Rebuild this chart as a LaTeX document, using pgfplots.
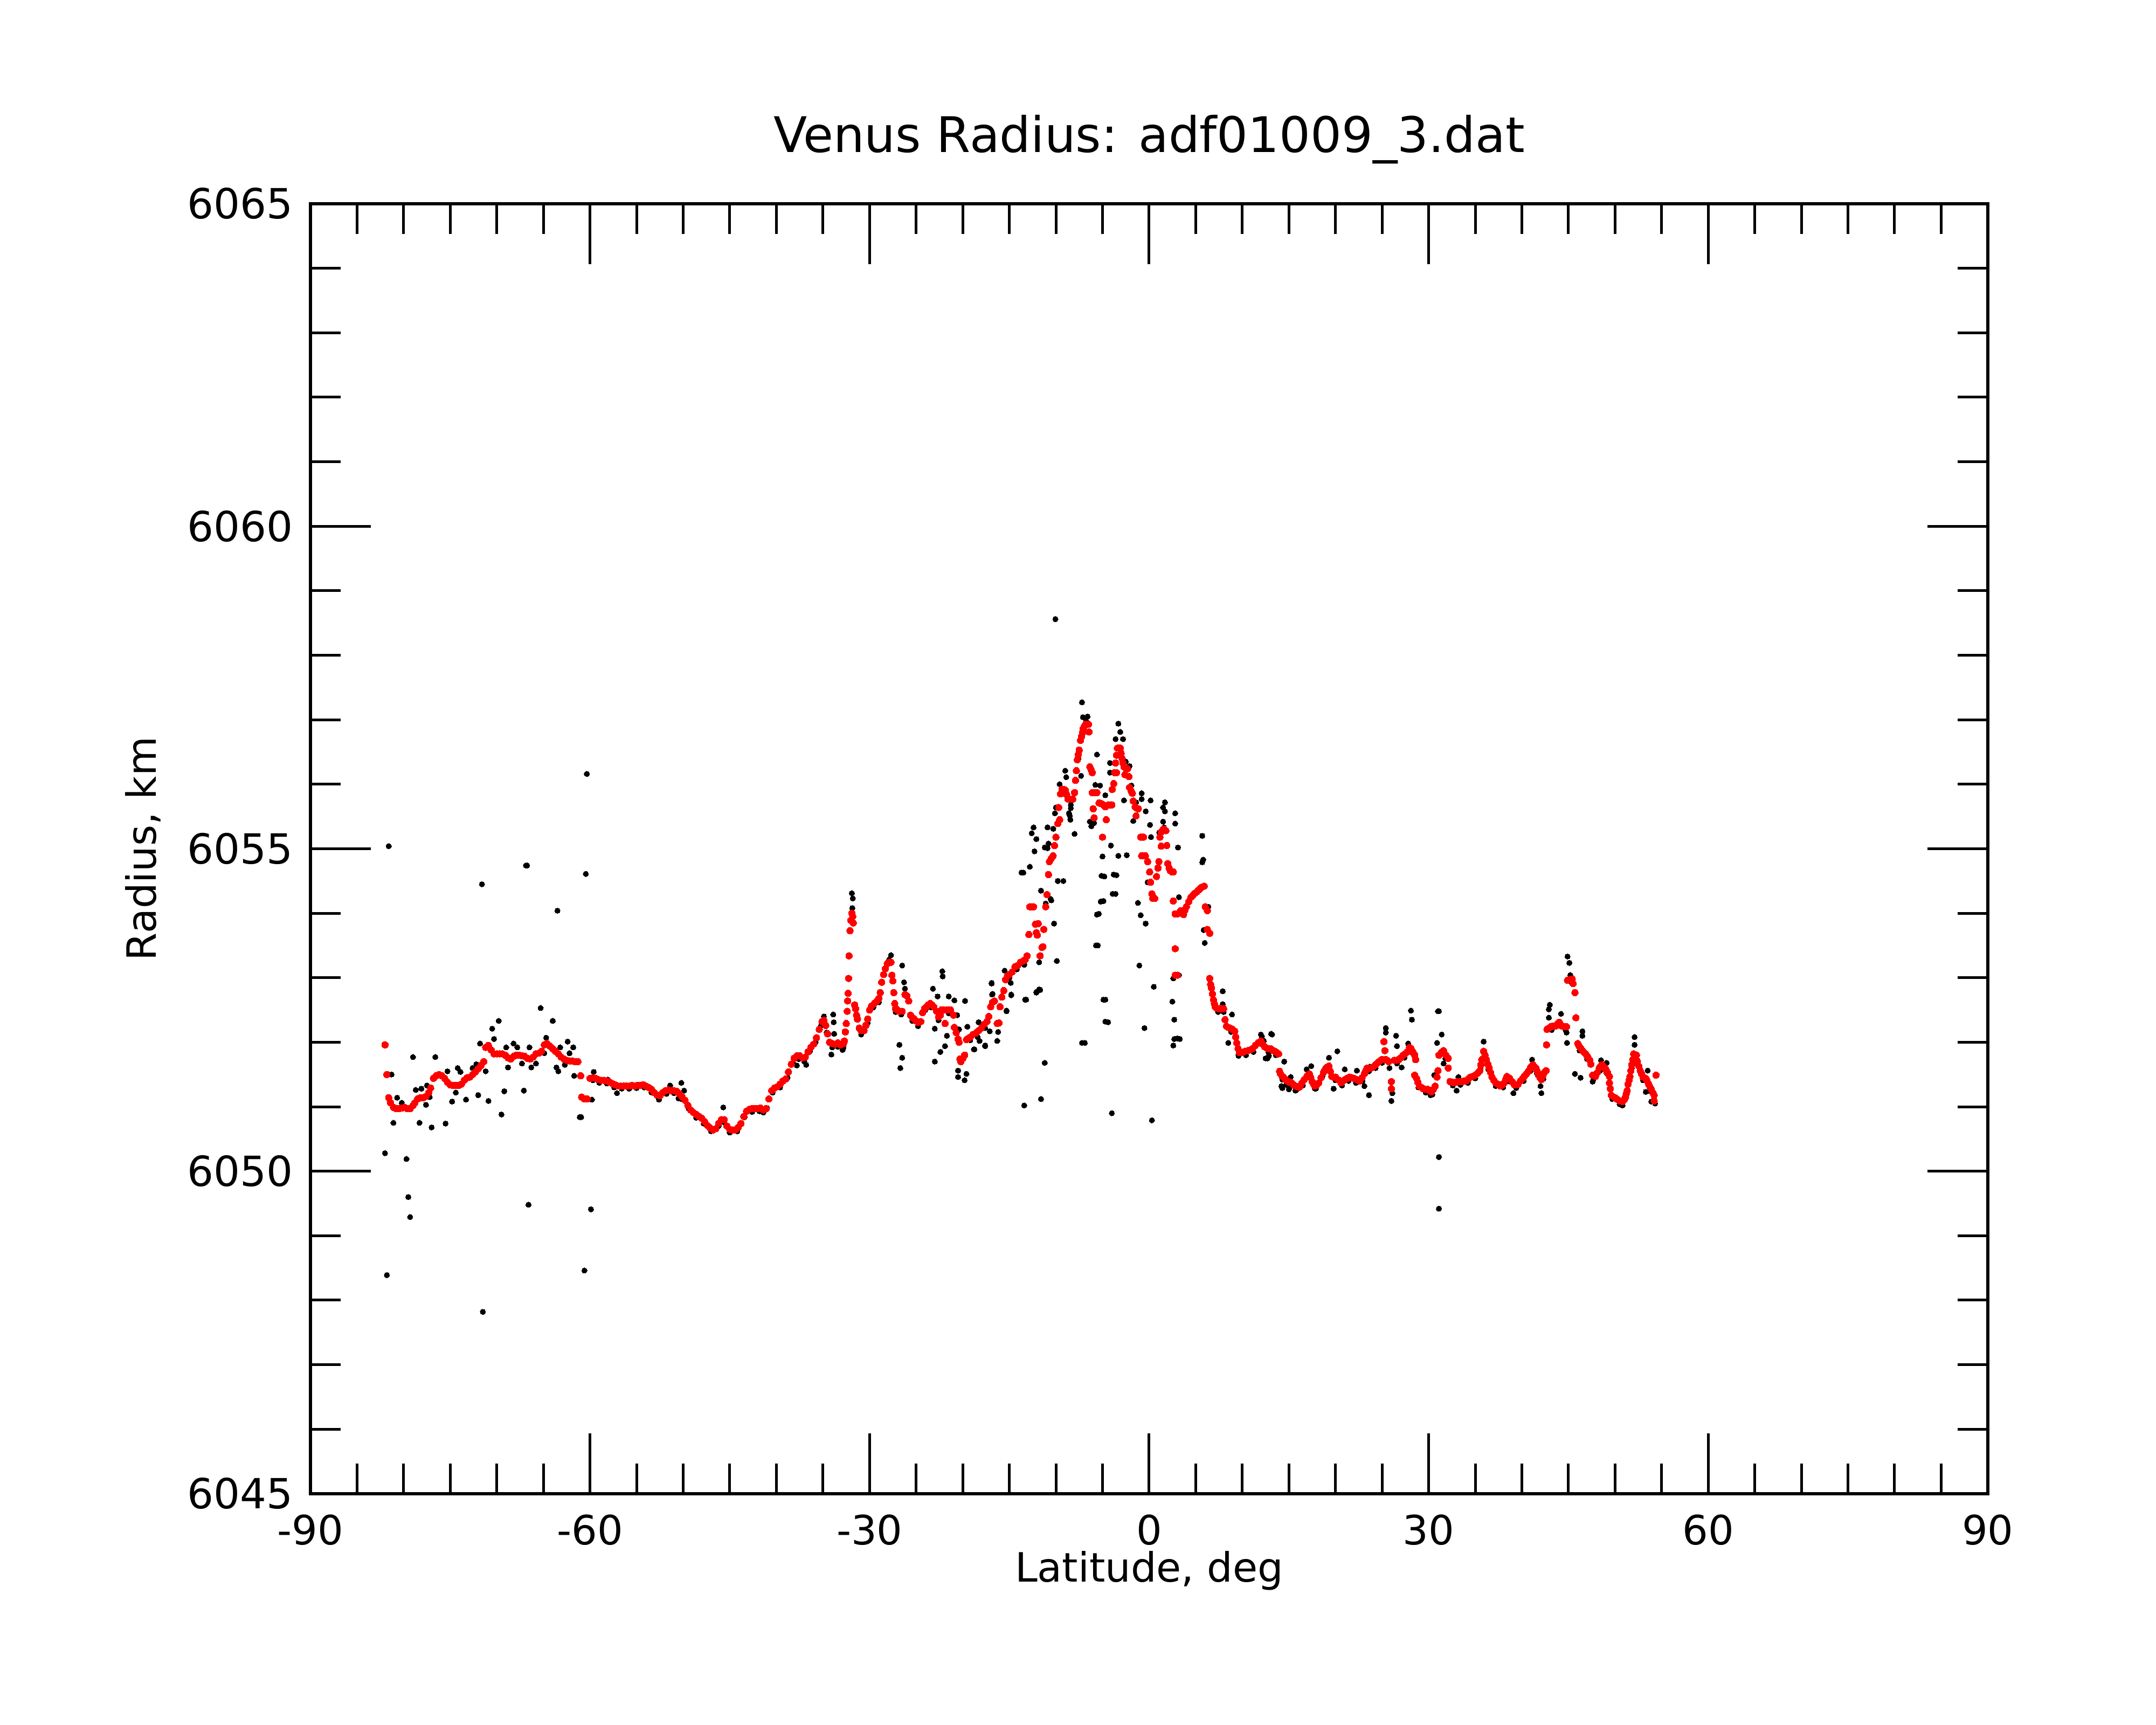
\documentclass[border=0pt]{standalone}
\usepackage{fontspec}
\setmainfont{DejaVu Sans}
\usepackage{pgfplots}
\pgfplotsset{compat=1.18}
\begin{document}
\begin{tikzpicture}
\useasboundingbox (-57.6pt,-42.9pt) rectangle (342.4pt,277.1pt);
\begin{axis}[
  at={(0pt,0pt)}, anchor=south west,
  scale only axis, width=311.2pt, height=239.3pt,
  xmin=-90, xmax=90, ymin=6045, ymax=6065,
  xtick={-90,-60,-30,0,30,60,90},
  xticklabels={-90,-60,-30,0,30,60,90},
  ytick={6045,6050,6055,6060,6065},
  yticklabels={6045,6050,6055,6060,6065},
  minor x tick num=5, minor y tick num=4,
  tick pos=both, ticklabel pos=left,
  tick align=inside,
  major tick length=11.2pt, minor tick length=5.6pt,
  every tick/.style={black, line width=0.5pt},
  axis line style={line width=0.55pt},
  xticklabel style={font=\fontsize{7.5}{9}\selectfont, yshift=-0.4pt},
  yticklabel style={font=\fontsize{7.7}{9}\selectfont, xshift=0.3pt},
  every axis title/.style={at={(axis description cs:0.5,1)}, anchor=base, yshift=9.5pt, font=\fontsize{9.1}{11}\selectfont},
  every axis x label/.style={at={(axis description cs:0.5,0)}, anchor=base, yshift=-16.4pt, font=\fontsize{7.5}{9}\selectfont},
  every axis y label/.style={at={(axis description cs:0,0.5)}, xshift=-28.6pt, rotate=90, anchor=base, font=\fontsize{7.5}{9}\selectfont},
  title={Venus Radius: adf01009\_3.dat},
  xlabel={Latitude, deg},
  ylabel={Radius, km},
  clip=false,
]
% black: raw measurements (off-curve)
\addplot[black, only marks, mark=*, mark size=0.5pt, mark options={solid, fill=black, draw=black, line width=0pt}] table[row sep=\\] {
x y \\
-60.34 6056.16 \\ -81.6 6055.04 \\ -66.87 6054.74 \\ -66.75 6054.74 \\ -71.6 6054.45 \\ -60.45 6054.61 \\
-63.5 6054.04 \\ -65.3 6052.53 \\ -69.8 6052.33 \\ -70.5 6052.21 \\ -64.0 6052.33 \\ -79.0 6051.77 \\
-76.6 6051.77 \\ -81.3 6051.50 \\ -82.0 6050.28 \\ -79.7 6050.19 \\ -79.5 6049.60 \\ -79.3 6049.29 \\
-66.6 6049.48 \\ -59.9 6049.41 \\ -81.8 6048.39 \\ -71.5 6047.82 \\ -60.6 6048.46 \\ -81.1 6050.75 \\
-80.7 6051.14 \\ -80.2 6051.06 \\ -78.3 6050.75 \\ -77.0 6050.68 \\ -75.5 6050.74 \\ -77.6 6051.03 \\
-77.2 6051.15 \\ -78.7 6051.26 \\ -78.1 6051.28 \\ -77.5 6051.33 \\ -75.3 6051.55 \\ -74.8 6051.08 \\
-74.4 6051.22 \\ -74.2 6051.60 \\ -73.9 6051.54 \\ -73.3 6051.11 \\ -72.6 6051.60 \\ -72.2 6051.66 \\
-72.0 6051.18 \\ -71.8 6051.98 \\ -71.2 6051.55 \\ -70.9 6051.09 \\ -70.3 6052.05 \\ -69.5 6050.88 \\
-69.2 6051.24 \\ -69.0 6051.92 \\ -68.8 6051.61 \\ -68.2 6051.98 \\ -67.8 6051.92 \\ -67.3 6051.67 \\
-67.1 6051.25 \\ -66.5 6051.92 \\ -66.3 6051.61 \\ -65.8 6051.67 \\ -64.9 6051.83 \\ -64.7 6052.07 \\
-63.6 6051.61 \\ -63.4 6051.55 \\ -63.2 6051.92 \\ -62.7 6051.65 \\ -62.4 6052.01 \\ -62.2 6051.83 \\
-61.8 6051.92 \\ -61.7 6051.48 \\ -61.1 6050.84 \\ -60.95 6050.84 \\ -59.8 6051.11 \\ -59.6 6051.54 \\
-57.1 6051.21 \\ -58.1 6051.42 \\ -52.6 6051.11 \\ -51.4 6051.33 \\ -50.5 6051.13 \\ -50.2 6051.37 \\
-49.9 6051.25 \\ -45.7 6050.99 \\ -41.4 6050.91 \\
-31.9 6054.31 \\ -31.8 6054.23 \\ -31.85 6054.08 \\ -27.7 6053.35 \\ -26.5 6053.19 \\ -26.3 6052.93 \\
-26.2 6052.83 \\ -26.8 6051.96 \\ -26.5 6051.76 \\ -26.7 6051.60 \\ -33.9 6052.43 \\ -33.85 6052.31 \\
-33.8 6052.13 \\ -34.1 6051.81 \\ -32.9 6051.88 \\ -34.9 6052.40 \\ -37.8 6051.64 \\ -36.8 6051.65 \\
-23.2 6052.83 \\ -22.7 6052.71 \\ -22.2 6053.10 \\ -22.15 6053.02 \\ -21.5 6052.71 \\ -20.9 6052.65 \\
-20.6 6052.42 \\ -20.4 6052.20 \\ -19.75 6052.64 \\ -19.5 6052.24 \\ -23.0 6052.21 \\ -23.0 6051.70 \\
-22.4 6051.85 \\ -21.9 6051.94 \\ -21.7 6052.10 \\ -20.5 6051.56 \\ -20.5 6051.46 \\ -19.8 6051.41 \\
-19.6 6051.51 \\ -18.8 6051.89 \\ -18.3 6052.31 \\ -17.6 6051.94 \\ -16.9 6052.92 \\ -16.85 6052.74 \\
-16.3 6052.02 \\ -16.2 6052.16 \\ -15.5 6053.11 \\ -14.8 6052.74 \\ -14.85 6052.92 \\ -15.3 6052.48 \\
-13.2 6052.66 \\ -13.4 6051.02 \\ -11.6 6051.12 \\ -11.2 6051.68 \\ -11.8 6052.82 \\ -12.1 6052.77 \\
-11.8 6053.24 \\ -10.5 6054.20 \\ -10.2 6053.84 \\ -9.9 6053.26 \\ -13.5 6054.63 \\ -9.8 6054.50 \\
-9.2 6054.50 \\ -4.9 6054.19 \\ -4.8 6054.57 \\ -3.5 6054.59 \\ -3.6 6054.30 \\ -5.4 6053.99 \\
-5.5 6053.50 \\ -4.7 6052.66 \\ -4.4 6052.31 \\ -6.9 6051.99 \\ -4.0 6050.90 \\
-10.06 6058.56 \\ -7.2 6057.27 \\ -7.1 6057.04 \\ -5.6 6056.46 \\ -3.3 6056.94 \\ -3.1 6056.81 \\
-3.6 6056.70 \\ -2.8 6056.70 \\ -4.2 6056.33 \\ -4.2 6056.18 \\ -2.1 6056.28 \\ -9.0 6056.21 \\
-8.9 6056.11 \\ -7.3 6056.13 \\ -5.77 6055.99 \\ -5.26 6055.98 \\ -4.7 6055.83 \\ -2.7 6055.75 \\
0.16 6055.75 \\ -0.8 6055.86 \\ -0.8 6055.77 \\ -0.36 6055.58 \\ 1.7 6055.72 \\ 1.5 6055.64 \\
2.8 6055.55 \\ 2.8 6055.39 \\ -1.7 6055.43 \\ -6.36 6055.42 \\ -12.4 6055.33 \\ -12.6 6055.24 \\
-12.3 6054.96 \\ -10.8 6055.08 \\ -10.9 6055.01 \\ -10.28 6055.31 \\ -10.0 6055.64 \\ -10.1 6055.55 \\
-8.0 6055.23 \\ -8.5 6055.51 \\ -8.4 6055.63 \\ -8.4 6055.68 \\ 0.1 6055.37 \\ 0.2 6055.18 \\
3.1 6055.02 \\ 1.7 6055.58 \\ 1.5 6055.42 \\ -2.4 6054.90 \\ -3.3 6054.89 \\ -5.0 6054.88 \\
-4.1 6055.05 \\ -5.1 6054.58 \\ -3.8 6054.60 \\ -3.9 6054.30 \\ -5.2 6054.18 \\ -5.6 6053.98 \\
-5.7 6053.50 \\ -4.9 6052.66 \\ -4.7 6052.32 \\ -7.2 6051.99 \\ 0.3 6050.79 \\ -0.5 6052.22 \\
0.5 6052.86 \\ -1.05 6053.19 \\ -0.37 6053.84 \\ -0.9 6053.97 \\ -1.2 6054.16 \\ -0.16 6054.48 \\
5.7 6055.20 \\ 5.8 6054.83 \\ 5.7 6054.79 \\ 6.0 6054.42 \\ 6.35 6054.10 \\ 5.86 6053.74 \\
5.97 6053.54 \\ 6.5 6052.99 \\ 2.5 6052.63 \\ 2.7 6052.35 \\ 2.7 6052.05 \\ 2.6 6051.95 \\
3.03 6052.06 \\ 7.9 6052.79 \\ 7.9 6052.59 \\ 8.9 6052.43 \\ 12.1 6052.09 \\ 13.2 6052.12 \\
12.7 6051.75 \\ 14.5 6051.70 \\ 15.2 6051.46 \\ 15.05 6051.30 \\ 3.2 6054.25 \\ 3.2 6053.04 \\
2.6 6052.99 \\ -13.7 6054.63 \\ -12.8 6054.72 \\ -10.9 6055.33 \\ -11.2 6055.02 \\ -10.57 6054.22 \\
-11.7 6052.81 \\ -12.1 6052.78 \\ -13.3 6052.66 \\ -14.8 6052.73 \\ -15.3 6052.49 \\ -16.9 6052.91 \\
-16.8 6052.75 \\ -16.3 6052.02 \\ -17.6 6051.95 \\ -18.2 6052.02 \\ -18.75 6051.89 \\ -17.1 6052.17 \\
3.3 6052.05 \\ 8.5 6051.99 \\ 9.6 6051.81 \\ 12.0 6052.12 \\ 12.3 6052.02 \\ 12.5 6051.75 \\
14.3 6051.29 \\ 14.7 6051.34 \\ -9.6 6056.00 \\ -8.6 6055.55 \\ -8.45 6055.45 \\ -6.2 6055.35 \\
-5.9 6055.40 \\ -7.6 6056.40 \\ -6.75 6056.98 \\ -6.6 6057.05 \\ -1.9 6055.98 \\ -2.5 6056.35 \\
-1.4 6055.72 \\ 1.1 6055.25 \\ 1.6 6055.33 \\ -12.1 6055.15 \\ -11.6 6054.35 \\ -11.1 6054.15 \\
13.1 6052.13 \\ 12.85 6051.79 \\ 14.2 6051.32 \\ 15.0 6051.27 \\ 15.7 6051.25 \\ 16.9 6051.58 \\
17.4 6051.63 \\ 17.8 6051.28 \\ 19.3 6051.76 \\ 19.8 6051.28 \\ 20.2 6051.86 \\ 21.0 6051.58 \\
22.3 6051.56 \\ 23.1 6051.32 \\ 23.6 6051.18 \\ 23.7 6051.62 \\ 25.4 6052.22 \\ 25.4 6052.15 \\
26.5 6052.10 \\ 26.6 6051.94 \\ 26.0 6051.09 \\ 26.1 6051.21 \\ 27.1 6051.61 \\ 28.1 6052.49 \\
28.2 6052.35 \\ 27.8 6051.98 \\ 30.2 6051.18 \\ 31.0 6052.48 \\ 31.1 6052.48 \\ 31.4 6052.12 \\
30.9 6051.99 \\ 31.6 6051.67 \\ 31.1 6050.22 \\ 31.1 6049.42 \\ 30.6 6051.49 \\ 35.9 6052.01 \\
33.2 6051.46 \\ 33.0 6051.25 \\ 38.6 6051.46 \\ 39.1 6051.21 \\ 41.1 6051.73 \\ 42.0 6051.32 \\
42.1 6051.21 \\ 43.0 6052.58 \\ 42.9 6052.51 \\ 42.9 6052.38 \\ 44.2 6052.44 \\ 44.0 6052.32 \\
44.8 6052.15 \\ 44.85 6051.99 \\ 44.9 6053.33 \\ 45.1 6053.23 \\ 45.2 6053.04 \\ 46.5 6052.17 \\
46.5 6052.10 \\ 45.7 6051.51 \\ 46.3 6051.45 \\ 47.6 6051.39 \\ 48.5 6051.72 \\ 49.1 6051.68 \\
50.8 6051.02 \\ 52.1 6052.08 \\ 52.1 6051.96 \\ 53.5 6051.56 \\ 53.3 6051.23 \\ 53.9 6051.08 \\
};
% black: raw measurements lying under the smoothed curve
\addplot[black, only marks, mark=*, mark size=0.5pt, mark options={solid, fill=black, draw=black, line width=0pt}] table[row sep=\\] {
x y \\
-59.7 6051.41 \\ -59.0 6051.37 \\ -58.2 6051.36 \\ -57.4 6051.30 \\ -56.6 6051.28 \\ -55.8 6051.28 \\
-55.0 6051.29 \\ -54.2 6051.30 \\ -53.4 6051.22 \\ -52.6 6051.12 \\ -51.8 6051.20 \\ -51.0 6051.21 \\
-50.2 6051.12 \\ -49.4 6050.97 \\ -48.6 6050.83 \\ -47.8 6050.74 \\ -47.0 6050.62 \\ -46.2 6050.70 \\
-45.6 6050.76 \\ -45.0 6050.60 \\ -44.2 6050.62 \\ -43.4 6050.84 \\ -42.6 6050.92 \\ -41.8 6050.93 \\
-41.0 6050.98 \\ -40.4 6051.22 \\ -39.6 6051.30 \\ -38.8 6051.45 \\ -38.2 6051.68 \\ -37.6 6051.74 \\
-37.0 6051.70 \\ -36.4 6051.86 \\ -35.8 6052.00 \\ -35.2 6052.26 \\ -34.6 6052.15 \\ -34.0 6051.92 \\
-33.4 6051.93 \\ -32.8 6051.92 \\ -30.9 6052.12 \\ -30.2 6052.30 \\ -29.6 6052.54 \\ -29.0 6052.62 \\
-28.4 6053.05 \\ -27.9 6053.28 \\ -27.2 6052.47 \\ -26.6 6052.43 \\ -25.4 6052.33 \\ -24.8 6052.25 \\
-24.0 6052.50 \\ -23.4 6052.54 \\ -22.6 6052.34 \\ -21.5 6052.45 \\ -19.2 6052.03 \\ -18.4 6052.08 \\
-17.6 6052.22 \\ -15.0 6053.00 \\ -14.2 6053.13 \\ -13.4 6053.20 \\
7.4 6052.47 \\ 8.0 6052.47 \\ 8.8 6052.16 \\ 9.6 6051.79 \\ 10.4 6051.80 \\ 11.2 6051.85 \\
12.0 6051.97 \\ 12.8 6051.85 \\ 13.6 6051.80 \\ 14.3 6051.42 \\ 15.0 6051.33 \\ 15.8 6051.26 \\
16.5 6051.33 \\ 17.2 6051.46 \\ 17.9 6051.28 \\ 18.6 6051.47 \\ 19.3 6051.58 \\ 20.0 6051.41 \\
20.7 6051.33 \\ 21.4 6051.40 \\ 22.2 6051.37 \\ 22.9 6051.40 \\ 23.6 6051.55 \\ 24.3 6051.60 \\
25.0 6051.68 \\ 25.8 6051.60 \\ 26.6 6051.67 \\ 27.4 6051.76 \\ 28.1 6051.85 \\ 28.9 6051.30 \\
29.7 6051.22 \\ 30.4 6051.19 \\ 31.8 6051.75 \\ 32.6 6051.33 \\ 33.4 6051.34 \\ 34.2 6051.37 \\
35.0 6051.44 \\ 35.6 6051.62 \\ 36.4 6051.58 \\ 37.2 6051.32 \\ 38.0 6051.30 \\ 38.7 6051.39 \\
39.4 6051.29 \\ 40.2 6051.40 \\ 40.9 6051.55 \\ 41.6 6051.52 \\ 42.3 6051.43 \\ 43.2 6052.19 \\
44.0 6052.26 \\ 44.7 6052.19 \\ 45.3 6052.93 \\ 46.2 6051.87 \\ 47.0 6051.74 \\ 47.7 6051.43 \\
48.4 6051.56 \\ 49.1 6051.52 \\ 49.7 6051.12 \\ 50.5 6051.04 \\ 51.2 6051.15 \\ 51.8 6051.60 \\
52.3 6051.75 \\ 53.0 6051.41 \\ 53.8 6051.24 \\ 54.3 6051.05 \\
};
% red: smoothed radius
\addplot[red, only marks, mark=*, mark size=0.62pt, mark options={solid, fill=red, draw=red, line width=0pt}] table[row sep=\\] {
x y \\
-82.0 6051.96 \\ -81.8 6051.50 \\ -81.6 6051.14 \\ -81.4 6051.06 \\ -81.1 6050.99 \\ -80.8 6050.97 \\
-80.5 6050.97 \\ -80.2 6050.98 \\ -79.9 6050.99 \\ -79.6 6050.97 \\ -79.3 6050.97 \\ -79.0 6051.02 \\
-78.8 6051.06 \\ -78.5 6051.12 \\ -78.2 6051.14 \\ -77.9 6051.14 \\ -77.6 6051.16 \\ -77.3 6051.22 \\
-77.1 6051.29 \\ -76.8 6051.44 \\ -76.5 6051.48 \\ -76.2 6051.50 \\ -75.9 6051.48 \\ -75.6 6051.44 \\
-75.3 6051.38 \\ -75.0 6051.34 \\ -74.7 6051.33 \\ -74.4 6051.33 \\ -74.1 6051.33 \\ -73.8 6051.35 \\
-73.5 6051.41 \\ -73.2 6051.45 \\ -72.9 6051.46 \\ -72.6 6051.50 \\ -72.3 6051.54 \\ -72.0 6051.59 \\
-71.7 6051.64 \\ -71.4 6051.70 \\ -71.2 6051.92 \\ -70.9 6051.95 \\ -70.6 6051.88 \\ -70.3 6051.82 \\
-70.0 6051.82 \\ -69.7 6051.82 \\ -69.4 6051.82 \\ -69.1 6051.80 \\ -68.8 6051.76 \\ -68.5 6051.74 \\
-68.2 6051.78 \\ -67.9 6051.80 \\ -67.6 6051.80 \\ -67.3 6051.79 \\ -67.0 6051.78 \\ -66.7 6051.75 \\
-66.4 6051.74 \\ -66.1 6051.77 \\ -65.8 6051.82 \\ -65.5 6051.83 \\ -65.2 6051.86 \\ -64.9 6051.96 \\
-64.6 6051.98 \\ -64.3 6051.94 \\ -64.0 6051.90 \\ -63.7 6051.86 \\ -63.4 6051.82 \\ -63.1 6051.77 \\
-62.8 6051.74 \\ -62.5 6051.72 \\ -62.2 6051.71 \\ -61.9 6051.71 \\ -61.6 6051.70 \\ -61.3 6051.70 \\
-61.0 6051.48 \\ -60.9 6051.15 \\ -60.6 6051.12 \\ -60.3 6051.12 \\ -60.0 6051.44 \\ -59.7 6051.45 \\
-59.4 6051.44 \\ -59.1 6051.42 \\ -58.8 6051.41 \\ -58.5 6051.41 \\ -58.2 6051.40 \\ -57.9 6051.38 \\
-57.6 6051.36 \\ -57.3 6051.34 \\ -57.0 6051.32 \\ -56.7 6051.32 \\ -56.4 6051.32 \\ -56.1 6051.32 \\
-55.8 6051.32 \\ -55.5 6051.33 \\ -55.2 6051.32 \\ -54.9 6051.33 \\ -54.6 6051.33 \\ -54.3 6051.34 \\
-54.0 6051.32 \\ -53.7 6051.30 \\ -53.4 6051.27 \\ -53.1 6051.22 \\ -52.8 6051.18 \\ -52.5 6051.17 \\
-52.2 6051.22 \\ -51.9 6051.25 \\ -51.6 6051.26 \\ -51.3 6051.25 \\ -51.0 6051.25 \\ -50.7 6051.24 \\
-50.4 6051.20 \\ -50.1 6051.15 \\ -49.8 6051.10 \\ -49.5 6051.02 \\ -49.2 6050.95 \\ -48.9 6050.91 \\
-48.6 6050.88 \\ -48.3 6050.85 \\ -48.0 6050.82 \\ -47.7 6050.77 \\ -47.4 6050.71 \\ -47.1 6050.67 \\
-46.8 6050.64 \\ -46.5 6050.66 \\ -46.2 6050.74 \\ -45.9 6050.80 \\ -45.6 6050.80 \\ -45.3 6050.70 \\
-45.0 6050.65 \\ -44.7 6050.64 \\ -44.4 6050.64 \\ -44.1 6050.68 \\ -43.8 6050.74 \\ -43.5 6050.85 \\
-43.2 6050.93 \\ -42.9 6050.96 \\ -42.6 6050.97 \\ -42.3 6050.97 \\ -42.0 6050.97 \\ -41.7 6050.98 \\
-41.4 6050.95 \\ -41.1 6050.97 \\ -40.8 6051.12 \\ -40.5 6051.25 \\ -40.2 6051.29 \\ -39.9 6051.31 \\
-39.6 6051.35 \\ -39.3 6051.40 \\ -39.0 6051.43 \\ -38.7 6051.54 \\ -38.4 6051.66 \\ -38.1 6051.75 \\
-37.8 6051.79 \\ -37.5 6051.79 \\ -37.2 6051.76 \\ -36.9 6051.77 \\ -36.6 6051.85 \\ -36.3 6051.92 \\
-36.0 6051.97 \\ -35.7 6052.07 \\ -35.4 6052.20 \\ -35.1 6052.32 \\ -34.9 6052.34 \\ -34.7 6052.26 \\
-34.5 6052.13 \\ -34.3 6052.00 \\ -34.0 6051.98 \\ -33.7 6051.97 \\ -33.4 6051.99 \\ -33.1 6051.96 \\
-32.8 6051.98 \\ -32.7 6052.02 \\ -32.6 6052.16 \\ -32.5 6052.29 \\ -32.4 6052.48 \\ -32.35 6052.64 \\
-32.3 6052.76 \\ -32.25 6052.99 \\ -32.2 6053.34 \\ -32.1 6053.73 \\ -32.0 6053.89 \\ -31.9 6054.00 \\
-31.8 6053.95 \\ -31.75 6053.85 \\ -31.6 6052.58 \\ -31.5 6052.52 \\ -31.4 6052.42 \\ -31.3 6052.36 \\
-31.1 6052.22 \\ -30.9 6052.18 \\ -30.6 6052.18 \\ -30.4 6052.26 \\ -30.2 6052.36 \\ -30.0 6052.50 \\
-29.8 6052.56 \\ -29.5 6052.60 \\ -29.2 6052.64 \\ -29.0 6052.68 \\ -28.85 6052.77 \\ -28.7 6052.93 \\
-28.5 6053.05 \\ -28.3 6053.14 \\ -28.1 6053.22 \\ -27.9 6053.24 \\ -27.7 6053.24 \\ -27.6 6053.04 \\
-27.5 6052.95 \\ -27.4 6052.77 \\ -27.3 6052.60 \\ -27.2 6052.52 \\ -27.0 6052.50 \\ -26.8 6052.48 \\
-26.5 6052.48 \\ -26.2 6052.74 \\ -26.0 6052.72 \\ -25.8 6052.64 \\ -25.6 6052.42 \\ -25.4 6052.38 \\
-25.2 6052.36 \\ -25.0 6052.33 \\ -24.8 6052.31 \\ -24.5 6052.32 \\ -24.3 6052.46 \\ -24.1 6052.52 \\
-23.9 6052.55 \\ -23.7 6052.58 \\ -23.5 6052.60 \\ -23.3 6052.58 \\ -23.1 6052.55 \\ -22.8 6052.48 \\
-22.6 6052.39 \\ -22.4 6052.42 \\ -22.3 6052.50 \\ -22.1 6052.50 \\ -21.9 6052.29 \\ -21.7 6052.50 \\
-21.5 6052.50 \\ -21.3 6052.50 \\ -21.0 6052.42 \\ -20.9 6052.23 \\ -20.7 6052.15 \\ -20.5 6052.05 \\
-20.4 6052.00 \\ -20.3 6051.74 \\ -20.2 6051.70 \\ -20.0 6051.75 \\ -19.8 6051.80 \\ -19.6 6052.04 \\
-19.4 6052.06 \\ -19.2 6052.08 \\ -18.9 6052.12 \\ -18.6 6052.14 \\ -18.3 6052.18 \\ -18.0 6052.22 \\
-17.7 6052.28 \\ -17.4 6052.32 \\ -17.2 6052.40 \\ -17.0 6052.55 \\ -16.8 6052.62 \\ -16.6 6052.64 \\
-16.3 6052.29 \\ -16.1 6052.30 \\ -16.0 6052.55 \\ -15.8 6052.70 \\ -15.6 6052.80 \\ -15.4 6052.97 \\
-15.2 6053.03 \\ -15.0 6053.05 \\ -14.7 6053.09 \\ -14.4 6053.17 \\ -14.1 6053.19 \\ -13.8 6053.24 \\
-13.5 6053.26 \\ -13.3 6053.28 \\ -13.1 6053.34 \\ -12.9 6053.67 \\ -12.8 6054.10 \\ -12.6 6054.10 \\
-12.4 6054.10 \\ -12.2 6053.83 \\ -12.1 6053.70 \\ -12.0 6053.66 \\ -11.9 6053.84 \\ -11.7 6053.34 \\
-11.5 6053.47 \\ -11.4 6053.48 \\ -11.3 6053.75 \\ -11.1 6054.10 \\ -10.96 6054.29 \\ -10.8 6054.60 \\
-10.7 6054.80 \\ -10.5 6054.85 \\ -10.3 6054.89 \\ -10.15 6055.05 \\ -10.0 6055.18 \\ -9.8 6055.39 \\
-9.6 6055.45 \\ -9.7 6055.64 \\ -9.5 6055.85 \\ -9.35 6055.92 \\ -9.2 6055.92 \\ -9.0 6055.91 \\
-8.85 6055.84 \\ -8.7 6055.77 \\ -8.5 6055.77 \\ -8.2 6055.77 \\ -8.0 6055.87 \\ -7.9 6056.06 \\
-7.8 6056.21 \\ -7.7 6056.38 \\ -7.6 6056.46 \\ -7.5 6056.53 \\ -7.36 6056.68 \\ -7.25 6056.74 \\
-7.15 6056.80 \\ -7.07 6056.86 \\ -6.95 6056.90 \\ -6.8 6056.93 \\ -6.65 6056.93 \\ -6.5 6056.93 \\
-6.45 6056.81 \\ -6.36 6056.27 \\ -6.2 6056.22 \\ -6.1 6056.18 \\ -6.1 6055.87 \\ -5.9 6055.87 \\
-5.75 6055.87 \\ -5.6 6055.87 \\ -6.0 6055.62 \\ -5.9 6055.48 \\ -5.37 6055.71 \\ -5.2 6055.70 \\
-5.0 6055.69 \\ -4.85 6055.67 \\ -4.7 6055.65 \\ -4.55 6055.67 \\ -4.4 6055.68 \\ -4.2 6055.68 \\
-4.0 6055.68 \\ -5.0 6055.18 \\ -4.6 6055.45 \\ -3.96 6055.92 \\ -3.8 6056.01 \\ -3.7 6056.18 \\
-3.5 6056.18 \\ -3.6 6056.33 \\ -3.5 6056.45 \\ -3.4 6056.56 \\ -3.25 6056.56 \\ -3.1 6056.56 \\
-3.0 6056.48 \\ -2.9 6056.40 \\ -2.8 6056.33 \\ -2.7 6056.27 \\ -2.6 6056.15 \\ -2.45 6056.24 \\
-2.3 6056.24 \\ -2.16 6056.12 \\ -2.1 6055.95 \\ -1.95 6055.90 \\ -1.8 6055.86 \\ -1.7 6055.74 \\
-1.5 6055.65 \\ -1.35 6055.63 \\ -1.16 6055.62 \\ -1.4 6055.51 \\ -0.9 6055.18 \\ -0.75 6055.18 \\
-0.6 6055.18 \\ -0.8 6054.89 \\ -0.6 6054.89 \\ -0.4 6054.89 \\ -0.16 6054.80 \\ 0.06 6054.64 \\
0.16 6054.48 \\ 0.3 6054.30 \\ 0.4 6054.23 \\ 0.6 6054.23 \\ 0.8 6054.57 \\ 0.95 6054.70 \\
1.05 6054.80 \\ 1.16 6055.18 \\ 1.3 6055.26 \\ 1.5 6055.30 \\ 1.65 6055.30 \\ 1.8 6055.28 \\
1.3 6055.04 \\ 1.9 6055.05 \\ 2.0 6054.77 \\ 2.15 6054.70 \\ 2.27 6054.66 \\ 2.45 6054.64 \\
2.6 6054.64 \\ 2.6 6054.19 \\ 2.8 6053.99 \\ 3.03 6053.99 \\ 2.8 6053.45 \\ 2.8 6053.04 \\
3.03 6053.04 \\ 3.4 6054.04 \\ 3.55 6054.00 \\ 3.7 6053.98 \\ 3.85 6054.05 \\ 4.0 6054.10 \\
4.25 6054.18 \\ 4.5 6054.25 \\ 4.7 6054.28 \\ 4.9 6054.31 \\ 5.1 6054.33 \\ 5.3 6054.36 \\
5.45 6054.38 \\ 5.6 6054.40 \\ 5.75 6054.41 \\ 5.9 6054.42 \\ 6.03 6054.10 \\ 6.25 6054.04 \\
6.25 6053.75 \\ 6.5 6053.69 \\ 6.5 6052.99 \\ 6.6 6052.90 \\ 6.7 6052.84 \\ 6.8 6052.75 \\
6.9 6052.66 \\ 7.0 6052.60 \\ 7.1 6052.55 \\ 7.25 6052.53 \\ 7.4 6052.52 \\ 7.55 6052.52 \\
7.7 6052.52 \\ 7.85 6052.52 \\ 8.0 6052.52 \\ 8.15 6052.35 \\ 8.3 6052.25 \\ 8.5 6052.23 \\
8.7 6052.22 \\ 8.95 6052.20 \\ 9.2 6052.17 \\ 9.3 6052.08 \\ 9.4 6051.99 \\ 9.55 6051.90 \\
9.7 6051.84 \\ 9.85 6051.84 \\ 10.0 6051.84 \\ 10.3 6051.86 \\ 10.6 6051.87 \\ 10.85 6051.88 \\
11.1 6051.90 \\ 11.4 6051.95 \\ 11.7 6051.99 \\ 12.0 6052.02 \\ 12.2 6051.97 \\ 12.4 6051.93 \\
12.6 6051.91 \\ 12.8 6051.90 \\ 13.05 6051.90 \\ 13.3 6051.87 \\ 13.5 6051.86 \\ 13.7 6051.84 \\
13.9 6051.82 \\ 14.0 6051.55 \\ 14.1 6051.51 \\ 14.25 6051.48 \\ 14.4 6051.46 \\ 14.6 6051.43 \\
14.8 6051.40 \\ 15.05 6051.38 \\ 15.3 6051.37 \\ 15.5 6051.34 \\ 15.7 6051.32 \\ 15.9 6051.31 \\
16.1 6051.30 \\ 16.25 6051.33 \\ 16.4 6051.37 \\ 16.65 6051.42 \\ 16.9 6051.46 \\ 17.05 6051.49 \\
17.2 6051.51 \\ 17.35 6051.45 \\ 17.5 6051.39 \\ 17.65 6051.35 \\ 17.8 6051.32 \\ 18.0 6051.34 \\
18.2 6051.37 \\ 18.45 6051.45 \\ 18.7 6051.53 \\ 18.85 6051.57 \\ 19.0 6051.60 \\ 19.15 6051.62 \\
19.3 6051.63 \\ 19.45 6051.55 \\ 19.6 6051.47 \\ 19.8 6051.46 \\ 20.0 6051.46 \\ 20.3 6051.42 \\
20.6 6051.37 \\ 20.8 6051.40 \\ 21.0 6051.42 \\ 21.25 6051.44 \\ 21.5 6051.46 \\ 21.75 6051.45 \\
22.0 6051.44 \\ 22.3 6051.42 \\ 22.6 6051.40 \\ 22.85 6051.45 \\ 23.1 6051.51 \\ 23.25 6051.56 \\
23.4 6051.60 \\ 23.6 6051.60 \\ 23.8 6051.60 \\ 24.05 6051.62 \\ 24.3 6051.65 \\ 24.5 6051.68 \\
24.7 6051.70 \\ 24.85 6051.72 \\ 25.0 6051.73 \\ 25.2 6052.01 \\ 25.3 6051.87 \\ 25.4 6051.73 \\
25.55 6051.72 \\ 25.7 6051.70 \\ 26.0 6051.39 \\ 26.0 6051.28 \\ 26.3 6051.72 \\ 26.55 6051.72 \\
26.8 6051.73 \\ 27.0 6051.76 \\ 27.2 6051.79 \\ 27.45 6051.82 \\ 27.7 6051.85 \\ 27.95 6051.92 \\
28.1 6051.90 \\ 28.2 6051.87 \\ 28.35 6051.84 \\ 28.5 6051.80 \\ 28.6 6051.73 \\ 28.5 6051.49 \\
28.7 6051.44 \\ 28.85 6051.38 \\ 29.0 6051.32 \\ 29.2 6051.30 \\ 29.4 6051.28 \\ 29.65 6051.27 \\
29.9 6051.27 \\ 30.1 6051.25 \\ 30.3 6051.23 \\ 30.5 6051.27 \\ 30.7 6051.32 \\ 30.9 6051.46 \\
31.0 6051.56 \\ 31.1 6051.80 \\ 31.35 6051.84 \\ 31.6 6051.87 \\ 31.85 6051.80 \\ 32.1 6051.75 \\
32.1 6051.60 \\ 32.3 6051.39 \\ 32.5 6051.38 \\ 32.7 6051.37 \\ 32.9 6051.38 \\ 33.1 6051.39 \\
33.35 6051.39 \\ 33.6 6051.39 \\ 33.8 6051.40 \\ 34.0 6051.40 \\ 34.25 6051.43 \\ 34.5 6051.46 \\
34.75 6051.47 \\ 35.0 6051.49 \\ 35.25 6051.52 \\ 35.5 6051.56 \\ 35.6 6051.65 \\ 35.7 6051.73 \\
35.9 6051.86 \\ 36.05 6051.80 \\ 36.2 6051.73 \\ 36.35 6051.66 \\ 36.5 6051.60 \\ 36.65 6051.53 \\
36.8 6051.46 \\ 37.0 6051.41 \\ 37.2 6051.37 \\ 37.45 6051.35 \\ 37.7 6051.32 \\ 37.9 6051.34 \\
38.1 6051.37 \\ 38.25 6051.42 \\ 38.4 6051.47 \\ 38.55 6051.45 \\ 38.7 6051.44 \\ 38.95 6051.39 \\
39.2 6051.34 \\ 39.4 6051.34 \\ 39.6 6051.35 \\ 39.85 6051.40 \\ 40.1 6051.44 \\ 40.3 6051.48 \\
40.5 6051.51 \\ 40.7 6051.55 \\ 40.9 6051.60 \\ 41.05 6051.63 \\ 41.2 6051.65 \\ 41.35 6051.62 \\
41.5 6051.60 \\ 41.65 6051.55 \\ 41.8 6051.49 \\ 41.95 6051.45 \\ 42.1 6051.42 \\ 42.25 6051.48 \\
42.4 6051.53 \\ 42.6 6051.56 \\ 42.65 6051.96 \\ 42.7 6052.20 \\ 42.9 6052.22 \\ 43.1 6052.24 \\
43.35 6052.25 \\ 43.6 6052.25 \\ 43.8 6052.28 \\ 44.0 6052.31 \\ 44.15 6052.28 \\ 44.3 6052.25 \\
44.55 6052.24 \\ 44.8 6052.24 \\ 44.9 6052.96 \\ 45.15 6052.97 \\ 45.4 6052.98 \\ 45.5 6052.91 \\
45.7 6052.77 \\ 45.8 6052.38 \\ 46.0 6051.98 \\ 46.15 6051.94 \\ 46.3 6051.91 \\ 46.5 6051.87 \\
46.7 6051.84 \\ 46.85 6051.82 \\ 47.0 6051.79 \\ 47.15 6051.75 \\ 47.3 6051.72 \\ 47.4 6051.66 \\
47.6 6051.49 \\ 47.9 6051.47 \\ 48.1 6051.53 \\ 48.3 6051.60 \\ 48.45 6051.63 \\ 48.6 6051.65 \\
48.75 6051.63 \\ 48.9 6051.60 \\ 49.05 6051.57 \\ 49.2 6051.53 \\ 49.4 6051.47 \\ 49.4 6051.37 \\
49.5 6051.28 \\ 49.6 6051.18 \\ 49.85 6051.15 \\ 50.1 6051.13 \\ 50.3 6051.11 \\ 50.5 6051.09 \\
50.8 6051.08 \\ 51.0 6051.11 \\ 51.1 6051.14 \\ 51.2 6051.20 \\ 51.3 6051.25 \\ 51.4 6051.35 \\
51.5 6051.41 \\ 51.6 6051.47 \\ 51.7 6051.56 \\ 51.8 6051.65 \\ 51.9 6051.73 \\ 52.0 6051.82 \\
52.15 6051.81 \\ 52.3 6051.80 \\ 52.4 6051.70 \\ 52.55 6051.63 \\ 52.7 6051.56 \\ 52.85 6051.51 \\
53.0 6051.46 \\ 53.15 6051.45 \\ 53.3 6051.44 \\ 53.45 6051.40 \\ 53.6 6051.35 \\ 53.75 6051.31 \\
53.9 6051.27 \\ 54.05 6051.22 \\ 54.2 6051.18 \\ 54.2 6051.09 \\ 54.4 6051.49 \\
};
\end{axis}
\end{tikzpicture}
\end{document}
